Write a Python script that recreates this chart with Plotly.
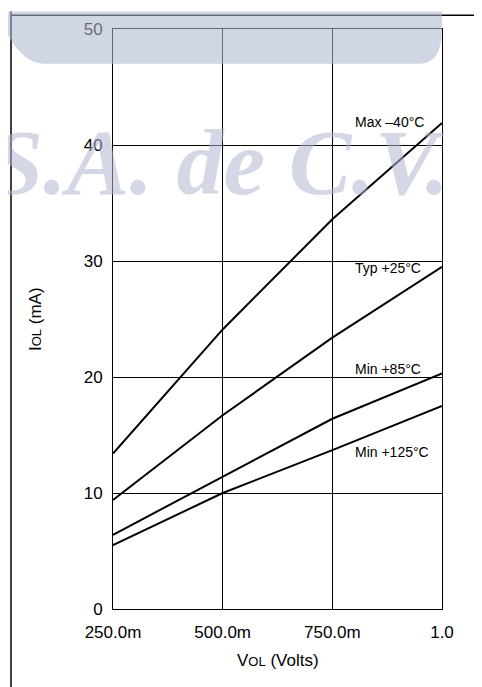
import plotly.graph_objects as go

# VOL sweep points (Volts) and IOL curves (mA)
vol = [0.25, 0.5, 0.75, 1.0]
max_m40 = [13.4, 24.1, 33.6, 41.9]
typ_25 = [9.4, 16.7, 23.4, 29.5]
min_85 = [6.4, 11.4, 16.4, 20.3]
min_125 = [5.5, 10.0, 13.7, 17.5]

curve_names = ["Max \u201340\u00b0C", "Typ +25\u00b0C", "Min +85\u00b0C", "Min +125\u00b0C"]
curves = [max_m40, typ_25, min_85, min_125]
label_y = [42.0, 29.4, 20.7, 13.5]

x_ticks = [0.25, 0.5, 0.75, 1.0]
x_ticktext = ["250.0m", "500.0m", "750.0m", "1.0"]

FONT = "Liberation Sans, Arial, sans-serif"

fig = go.Figure()
for name, ys in zip(curve_names, curves):
    fig.add_trace(go.Scatter(x=vol, y=ys, mode="lines", name=name,
                             line=dict(color="black", width=2)))

for name, ly in zip(curve_names, label_y):
    fig.add_annotation(x=0.797, y=ly, text=name, showarrow=False, xanchor="left", yanchor="middle",
                       font=dict(family=FONT, size=14, color="black"))

# axis titles
fig.add_annotation(xref="paper", yref="paper", x=0.5, y=-0.0895, xanchor="center", yanchor="middle",
                   text='V<span style="font-size:13px">OL</span> (Volts)',
                   showarrow=False, font=dict(family=FONT, size=17, color="black"))
fig.add_annotation(xref="paper", yref="paper", x=-0.237, y=0.5, xanchor="center", yanchor="middle",
                   text='I<span style="font-size:13px">OL</span> (mA)',
                   showarrow=False, textangle=-90, font=dict(family=FONT, size=17, color="black"))

# page frame
fig.add_shape(type="line", xref="paper", yref="paper", x0=-0.31, x1=-0.31, y0=1.03, y1=-0.14,
              line=dict(color="black", width=1.5))
fig.add_shape(type="line", xref="paper", yref="paper", x0=-0.31, x1=1.13, y0=1.0235, y1=1.0235,
              line=dict(color="black", width=1.5))

# watermark band
fig.add_shape(type="path", xref="paper", yref="paper", layer="above",
              path="M -0.32 1.03 L 1.0 1.03 L 1.0 1.0 Q 1.0 0.94 0.93 0.94 L -0.21 0.94 Q -0.27 0.94 -0.32 0.99 Z",
              fillcolor="rgb(176,184,208)", opacity=0.58, line=dict(width=0))
fig.add_annotation(xref="paper", yref="paper", x=0.325, y=0.77, xanchor="center", yanchor="middle",
                   text="<b><i>S.A. de C.V.</i></b>",
                   showarrow=False, font=dict(family="Liberation Serif, Times New Roman, serif", size=94,
                                              color="rgba(176,184,210,0.55)"))

fig.update_xaxes(range=[0.25, 1.0], tickvals=x_ticks, ticktext=x_ticktext,
                 showgrid=True, gridcolor="black", gridwidth=1,
                 showline=True, linecolor="black", linewidth=1, mirror=True,
                 zeroline=False, ticks="", ticklabelstandoff=8,
                 tickfont=dict(family=FONT, size=17, color="black"))
fig.update_yaxes(range=[0, 50], dtick=10,
                 showgrid=True, gridcolor="black", gridwidth=1,
                 showline=True, linecolor="black", linewidth=1, mirror=True,
                 zeroline=False, ticks="", ticklabelstandoff=6,
                 tickfont=dict(family=FONT, size=17, color="black"))

# the page puts the figure 8px in from the top-left corner
fig.update_layout(width=474, height=679, showlegend=False,
                  plot_bgcolor="white", paper_bgcolor="white",
                  margin=dict(l=105, r=40, t=15, b=78))
fig.write_html("out.html")
